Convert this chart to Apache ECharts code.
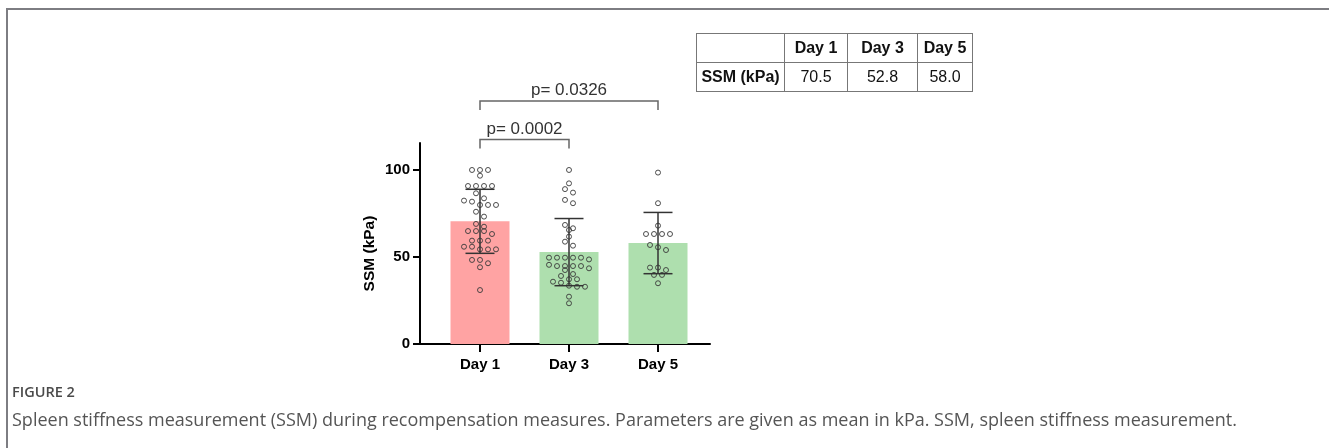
<!DOCTYPE html>
<html><head><meta charset="utf-8">
<script src="https://cdn.jsdelivr.net/npm/echarts@6/dist/echarts.min.js"></script>
<style>
html,body{margin:0;padding:0;background:#fff;width:1329px;height:448px;overflow:hidden;position:relative;font-family:"Liberation Sans",Arial,sans-serif}
#frame{position:absolute;left:6px;top:8px;right:0;bottom:0;border-left:2px solid #7d7d82;border-top:2px solid #7d7d82}
#chart{position:absolute;left:0;top:0;width:1329px;height:448px}
#tbl{position:absolute;left:696px;top:33px;border-collapse:collapse;font-size:16px;color:#111;font-family:"Liberation Sans",Arial,sans-serif}
#tbl td{border:1px solid #777;height:28px;text-align:center;padding:0}
#fig{position:absolute;left:12px;top:382px;font-family:"Open Sans",sans-serif;font-weight:600;font-size:14.5px;color:#4a4a4a}
#cap{position:absolute;left:12px;top:407px;font-family:"Open Sans",sans-serif;font-size:18px;color:#555;white-space:nowrap}
</style></head>
<body>
<div id="frame"></div>
<div id="chart"></div>
<table id="tbl"><tr id="hdr"></tr><tr id="row"></tr></table>
<div id="fig">FIGURE 2</div>
<div id="cap">Spleen stiffness measurement (SSM) during recompensation measures. Parameters are given as mean in kPa. SSM, spleen stiffness measurement.</div>
<script>
// ---- data ----
const categories = ['Day 1', 'Day 3', 'Day 5'];
const means = [70.5, 52.8, 58.0];
const sds = [18.4, 19.3, 17.6];
const day1 = [100, 100, 100, 96.7, 90.8, 90.8, 90.8, 90.8, 86.6, 83.7, 82.4, 81.8, 79.9, 79.9, 79.9, 76, 73.2, 69, 67.4, 64.9, 64.9, 64.9, 63.2, 59.4, 59.4, 59.4, 55.9, 55.9, 54.4, 54.4, 54.4, 48.3, 48.3, 46.4, 44.1, 31];
const day3 = [100, 92.3, 89, 87, 82.8, 80.9, 68.4, 66.5, 65.5, 61.7, 58.8, 56.5, 49.6, 49.6, 49.6, 49.6, 49.6, 48.6, 45.5, 44.8, 44.8, 44.8, 44.8, 43.5, 42.5, 40.2, 39.1, 37.2, 37.2, 35.8, 35.2, 33.5, 32.9, 32.9, 27.2, 23.4];
const day5 = [98.5, 80.9, 68, 63.2, 63.2, 63.2, 63.2, 56.9, 55.6, 54, 43.9, 43.9, 42.5, 39.7, 39.7, 34.9];
const yTicks = [0, 50, 100];
const comparisons = [[0, 1], [0, 2]];
const pLabels = ['p= 0.0002', 'p= 0.0326'];
const tableRowLabel = 'SSM (kPa)';

// ---- table ----
const colW = [87, 62, 69, 54];
const hdr = document.getElementById('hdr'), row = document.getElementById('row');
hdr.innerHTML = '<td style="width:' + colW[0] + 'px"></td>' + categories.map((c, i) => '<td style="width:' + colW[i + 1] + 'px;font-weight:bold">' + c + '</td>').join('');
row.innerHTML = '<td style="font-weight:bold">' + tableRowLabel + '</td>' + means.map(m => '<td>' + m.toFixed(1) + '</td>').join('');

// ---- beeswarm layout ----
function swarm(vals, bin) {
  const s = [...vals].sort((a, b) => b - a);
  const rows = []; let cur = null;
  s.forEach(v => { if (!cur || cur.start - v > bin) { cur = { start: v, items: [] }; rows.push(cur); } cur.items.push(v); });
  const out = [];
  rows.forEach(r => { const n = r.items.length; r.items.forEach((v, i) => out.push([v, i - (n - 1) / 2])); });
  return out;
}
const groups = [day1, day3, day5];
const dots = [];
groups.forEach((g, gi) => swarm(g, 2.9).forEach(([v, k]) => dots.push([gi, v, k])));

const barColors = ['#FFA3A3', '#AEDFAE', '#AEDFAE'];
const YMAX = 115.5;
const font = '"Liberation Sans", Arial, sans-serif';
const gridTop = 143, gridH = 201;

const chart = echarts.init(document.getElementById('chart'), null, { renderer: 'canvas' });
chart.setOption({
  animation: false,
  grid: [
    { left: 435.5, width: 267, top: gridTop, height: gridH },
    { left: 420, width: 290, top: gridTop, height: gridH }
  ],
  xAxis: [
    { gridIndex: 0, type: 'category', data: categories, boundaryGap: true,
      axisLine: { show: false },
      axisTick: { show: true, alignWithLabel: true, length: 8, lineStyle: { color: '#000', width: 2 } },
      axisLabel: { color: '#000', fontWeight: 'bold', fontSize: 15, fontFamily: font, margin: 13 } },
    { gridIndex: 1, type: 'value', min: 0, max: 1,
      axisLine: { show: true, lineStyle: { color: '#000', width: 2 } },
      axisTick: { show: false }, axisLabel: { show: false }, splitLine: { show: false } }
  ],
  yAxis: [
    { gridIndex: 0, type: 'value', min: 0, max: YMAX, show: false, splitLine: { show: false } },
    { gridIndex: 1, type: 'value', min: 0, max: YMAX,
      name: 'SSM (kPa)', nameLocation: 'middle', nameGap: 42,
      nameTextStyle: { color: '#000', fontWeight: 'bold', fontSize: 15.5, fontFamily: font, padding: [0, 20, 0, 0] },
      axisLine: { show: true, lineStyle: { color: '#000', width: 2 } },
      axisTick: { show: true, length: 7, customValues: yTicks, lineStyle: { color: '#000', width: 2 } },
      axisLabel: { color: '#000', fontWeight: 'bold', fontSize: 15, fontFamily: font, margin: 10, customValues: yTicks },
      splitLine: { show: false } }
  ],
  series: [
    { type: 'bar', xAxisIndex: 0, yAxisIndex: 0, barWidth: 59, z: 2,
      data: means.map((m, i) => ({ value: m, itemStyle: { color: barColors[i] } })) },
    { type: 'custom', xAxisIndex: 0, yAxisIndex: 0, data: dots, clip: false, z: 5,
      renderItem: (p, api) => {
        const c = api.coord([api.value(0), api.value(1)]);
        return { type: 'circle', shape: { cx: c[0] + api.value(2) * 8, cy: c[1], r: 2.5 },
          style: { fill: 'none', stroke: '#3a3a3a', lineWidth: 0.9 } };
      } },
    { type: 'custom', xAxisIndex: 0, yAxisIndex: 0, clip: false, z: 6,
      data: means.map((m, i) => [i, m, sds[i]]),
      renderItem: (p, api) => {
        const x = api.value(0), m = api.value(1), s = api.value(2);
        const top = api.coord([x, m + s]), bot = api.coord([x, m - s]);
        const st = { stroke: '#333', lineWidth: 1.5 };
        return { type: 'group', children: [
          { type: 'line', shape: { x1: top[0], y1: top[1], x2: bot[0], y2: bot[1] }, style: st },
          { type: 'line', shape: { x1: top[0] - 14.5, y1: top[1], x2: top[0] + 14.5, y2: top[1] }, style: st },
          { type: 'line', shape: { x1: bot[0] - 14.5, y1: bot[1], x2: bot[0] + 14.5, y2: bot[1] }, style: st }
        ] };
      } },
    { type: 'custom', xAxisIndex: 0, yAxisIndex: 0, clip: false, z: 6,
      data: comparisons.map((c, i) => [c[0], c[1], i]),
      renderItem: (p, api) => {
        const a = api.coord([api.value(0), 0]), b = api.coord([api.value(1), 0]);
        const i = api.value(2);
        const yl = i === 0 ? gridTop - 3.5 : gridTop - 42;
        const st = { stroke: '#666', lineWidth: 1.5 };
        return { type: 'group', children: [
          { type: 'polyline', shape: { points: [[a[0], yl + 9], [a[0], yl], [b[0], yl], [b[0], yl + 9]] }, style: Object.assign({ fill: null }, st) },
          { type: 'text', style: { text: pLabels[i], x: (a[0] + b[0]) / 2, y: yl - 2, align: 'center', verticalAlign: 'bottom',
            font: '17px ' + font, fill: '#333' } }
        ] };
      } }
  ]
});
</script>
</body></html>
